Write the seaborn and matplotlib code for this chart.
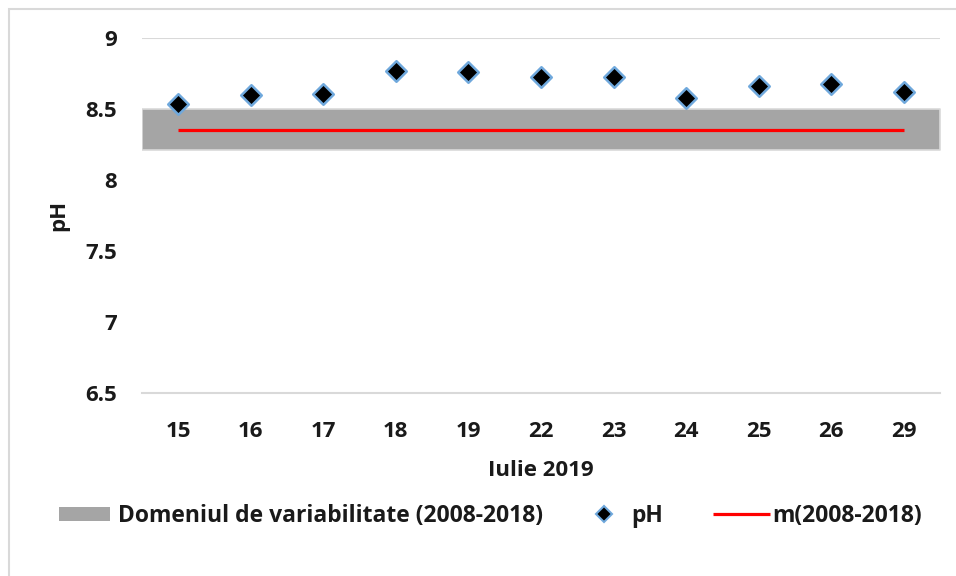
import matplotlib
matplotlib.use("Agg")
import matplotlib.pyplot as plt
from matplotlib.patches import Patch, Rectangle
from matplotlib.lines import Line2D
import seaborn as sns
import pandas as pd
import numpy as np

days = ["15", "16", "17", "18", "19", "22", "23", "24", "25", "26", "29"]
ph_values = [8.535, 8.60, 8.61, 8.77, 8.763, 8.727, 8.727, 8.58, 8.664, 8.676, 8.62]
range_low = 8.213
range_high = 8.50
mean_value = 8.354

sns.set_theme(style="white")
plt.rcParams['font.family'] = ['Open Sans', 'DejaVu Sans']
plt.rcParams['font.weight'] = 'bold'

FS = 16
LFS = 16.5
TXT = "#1a1a1a"

df = pd.DataFrame({"day": days, "pH": ph_values})

W, H = 956, 576
fig = plt.figure(figsize=(W / 100, H / 100), dpi=100)
ax = fig.add_axes([141.7 / W, 1 - 393 / H, (940.3 - 141.7) / W, (393 - 38.3) / H])

# outer chart border
fig.patches.append(Rectangle((9 / W, -0.1), 1.2, 1 - 9 / H + 0.1, transform=fig.transFigure,
                             fill=False, edgecolor="#D9D9D9", linewidth=1.5, zorder=0))

n = len(days)
ax.fill_between([-0.5, n - 0.5], range_low, range_high, color="#A5A5A5",
                edgecolor="#D9D9D9", linewidth=1.2, zorder=1)
ax.plot([0, n - 1], [mean_value, mean_value], color="#FF0000", linewidth=2.3,
        solid_capstyle="butt", zorder=2)
sns.scatterplot(data=df, x="day", y="pH", marker="D", s=110, color="black",
                edgecolor="#6FA8DC", linewidth=1.8, ax=ax, zorder=3, legend=False)

ax.axhline(9.0, color="#D9D9D9", linewidth=1.5, zorder=0)
ax.set_xlim(-0.5, n - 0.5)
ax.set_ylim(6.5, 9.0)
ax.set_yticks([6.5, 7, 7.5, 8, 8.5, 9])
ax.set_yticklabels(["6.5", "7", "7.5", "8", "8.5", "9"])
ax.tick_params(axis="both", length=0, labelsize=FS, colors=TXT)
ax.tick_params(axis="y", pad=18)
ax.tick_params(axis="x", pad=20)
for lab in ax.get_xticklabels() + ax.get_yticklabels():
    lab.set_fontweight("bold")

for s in ["left", "right", "top"]:
    ax.spines[s].set_visible(False)
ax.spines["bottom"].set_color("#D9D9D9")
ax.spines["bottom"].set_linewidth(1.5)
ax.grid(False)

ax.set_xlabel("Iulie 2019", fontsize=FS, fontweight="bold", color=TXT, labelpad=13)
ax.set_ylabel("pH", fontsize=FS, fontweight="bold", color=TXT, labelpad=11)

fpx = LFS * 100 / 72.0
ly = 1 - 516 / H
common = dict(loc="center left", frameon=False, prop={"size": LFS, "weight": "bold"},
              borderpad=0, borderaxespad=0, handleheight=0.6)

leg1 = fig.legend(handles=[Patch(facecolor="#A5A5A5", edgecolor="none",
                                 label="Domeniul de variabilitate (2008-2018)")],
                  bbox_to_anchor=(59 / W, ly), handlelength=51 / fpx,
                  handletextpad=8 / fpx, **common)
leg2 = fig.legend(handles=[Line2D([], [], linestyle="none", marker="D", markersize=8,
                                  markerfacecolor="black", markeredgecolor="#6FA8DC",
                                  markeredgewidth=1.5, label="pH")],
                  bbox_to_anchor=((604 - fpx / 2) / W, ly), handlelength=1.0,
                  handletextpad=(631 - 604 - fpx / 2) / fpx, **common)
leg3 = fig.legend(handles=[Line2D([], [], color="#FF0000", linewidth=2.3,
                                  solid_capstyle="butt", label="m(2008-2018)")],
                  bbox_to_anchor=(713 / W, ly), handlelength=57 / fpx,
                  handletextpad=2 / fpx, **common)
for lg in (leg1, leg2, leg3):
    for t in lg.get_texts():
        t.set_color(TXT)

fig.savefig("out.png", dpi=100)
